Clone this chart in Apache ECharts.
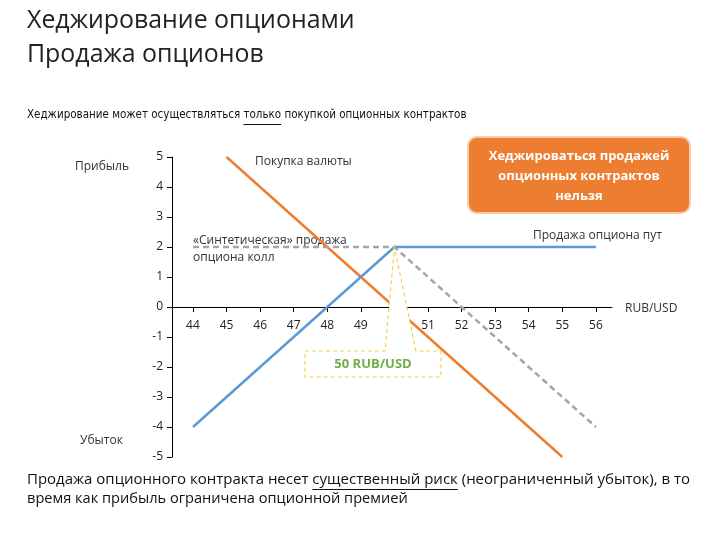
<!DOCTYPE html>
<html>
<head>
<meta charset="utf-8">
<script src="https://cdn.jsdelivr.net/npm/echarts@6/dist/echarts.min.js"></script>
<style>
html, body { margin: 0; padding: 0; background: #fff; }
#chart { width: 720px; height: 540px; }
</style>
</head>
<body>
<div id="chart"></div>
<script>
// курс RUB/USD и прибыль/убыток
var prices = [44, 45, 46, 47, 48, 49, 50, 51, 52, 53, 54, 55, 56];
var buyCurrency = [null, 5, 4, 3, 2, 1, 0, -1, -2, -3, -4, -5, null];
var putSale = [-4, -3, -2, -1, 0, 1, 2, 2, 2, 2, 2, 2, 2];
var syntheticCall = [2, 2, 2, 2, 2, 2, 2, 1, 0, -1, -2, -3, -4];
var strikePoint = [50, 2];

var FONT = '"Open Sans", "Noto Sans", sans-serif';
var NARROW = '"Liberation Sans Narrow", "DejaVu Sans Condensed", "Open Sans", sans-serif';

function pairs(ys) {
    return prices.map(function (x, i) { return [x, ys[i]]; });
}

var ctx = document.createElement('canvas').getContext('2d');
function textWidth(str, size, family) {
    ctx.font = size + 'px ' + (family || FONT);
    return ctx.measureText(str).width;
}
// подобрать кегль под ширину строки
function fitSize(str, width, family) {
    return Math.round(20 * width / textWidth(str, 20, family) * 10) / 10;
}

var chart = echarts.init(document.getElementById('chart'));

var option = {
    backgroundColor: '#fff',
    animation: false,
    grid: { left: 172, right: 108, top: 157, bottom: 83 },
    xAxis: {
        type: 'value',
        min: 43.375,
        max: 56.48,
        splitLine: { show: false },
        axisLine: { onZero: true, lineStyle: { color: '#000', width: 1 } },
        axisTick: { show: true, length: 5, inside: false, customValues: prices, lineStyle: { color: '#000' } },
        // подпись в первой строке высокого блока - встает у нулевой линии
        axisLabel: {
            customValues: prices,
            margin: 11,
            verticalAlign: 'bottom',
            lineHeight: 15,
            color: '#222',
            fontSize: 12,
            fontFamily: FONT,
            formatter: function (v) { return v + '\n\n\n\n\n\n\n\n\n'; }
        }
    },
    yAxis: {
        type: 'value',
        min: -5,
        max: 5,
        interval: 1,
        splitLine: { show: false },
        axisLine: { show: true, lineStyle: { color: '#000', width: 1 } },
        axisTick: { show: true, length: 5, lineStyle: { color: '#000' } },
        axisLabel: { margin: 9, color: '#222', fontSize: 12, fontFamily: FONT }
    },
    series: [
        {
            name: 'Покупка валюты',
            type: 'line',
            data: pairs(buyCurrency),
            showSymbol: false,
            lineStyle: { color: '#ED7D31', width: 2.5 },
            z: 2
        },
        {
            name: 'Синтетическая продажа опциона колл',
            type: 'line',
            data: pairs(syntheticCall),
            showSymbol: false,
            lineStyle: { color: '#A5A5A5', width: 2.5, type: [6, 4] },
            z: 3
        },
        {
            name: 'Продажа опциона пут',
            type: 'line',
            data: pairs(putSale),
            showSymbol: false,
            lineStyle: { color: '#5B9BD5', width: 2.5 },
            z: 4
        }
    ]
};
chart.setOption(option);

// выноска к страйку
var apex = chart.convertToPixel({ gridIndex: 0 }, strikePoint);
var boxL = 305, boxR = 441, boxT = 351, boxB = 377;

var title1 = 'Хеджирование опционами';
var subText = 'Хеджирование может осуществляться только покупкой опционных контрактов';
var subPre = 'Хеджирование может осуществляться ';
var subWord = 'только';
var botLine1 = 'Продажа опционного контракта несет существенный риск (неограниченный убыток), в то';
var botLine2 = 'время как прибыль ограничена опционной премией';
var botPre = 'Продажа опционного контракта несет ';
var botWord = 'существенный риск';

var TITLE = fitSize(title1, 328);
var SUB = fitSize(subText, 438, NARROW);
var BOT = fitSize(botLine2, 381);
var BOT1 = Math.min(fitSize(botLine1, 662), BOT * 1.03);

var u1x = 27 + textWidth(subPre, SUB, NARROW);
var u1w = textWidth(subWord, SUB, NARROW);
var u2x = 27 + textWidth(botPre, BOT1);
var u2w = textWidth(botWord, BOT1);

var lbl = { fontSize: 12, fontFamily: FONT, fill: '#333' };

chart.setOption({
    graphic: [
        { type: 'text', x: 27, y: 21, style: { text: title1, fontSize: TITLE, fontFamily: FONT, fill: '#222', verticalAlign: 'middle' } },
        { type: 'text', x: 27, y: 55, style: { text: 'Продажа опционов', fontSize: TITLE, fontFamily: FONT, fill: '#222', verticalAlign: 'middle' } },
        { type: 'text', x: 27, y: 115, style: { text: subText, fontSize: SUB, fontFamily: NARROW, fill: '#111', verticalAlign: 'middle' } },
        { type: 'line', shape: { x1: u1x, y1: 124.5, x2: u1x + u1w, y2: 124.5 }, style: { stroke: '#111', lineWidth: 1 } },
        { type: 'text', x: 27, y: 480, style: { text: botLine1, fontSize: BOT1, fontFamily: FONT, fill: '#111', verticalAlign: 'middle' } },
        { type: 'text', x: 27, y: 499, style: { text: botLine2, fontSize: BOT, fontFamily: FONT, fill: '#111', verticalAlign: 'middle' } },
        { type: 'line', shape: { x1: u2x, y1: 489.5, x2: u2x + u2w, y2: 489.5 }, style: { stroke: '#111', lineWidth: 1 } },

        { type: 'text', x: 75, y: 167, style: Object.assign({ text: 'Прибыль', verticalAlign: 'middle' }, lbl) },
        { type: 'text', x: 80, y: 441, style: Object.assign({ text: 'Убыток', verticalAlign: 'middle' }, lbl) },
        { type: 'text', x: 255, y: 162, style: Object.assign({ text: 'Покупка валюты', verticalAlign: 'middle' }, lbl) },
        { type: 'text', x: 193, y: 249, style: Object.assign({ text: '«Синтетическая» продажа\nопциона колл', lineHeight: 17, verticalAlign: 'middle' }, lbl) },
        { type: 'text', x: 533, y: 236, style: Object.assign({ text: 'Продажа опциона пут', verticalAlign: 'middle' }, lbl) },
        { type: 'text', x: 625, y: 309, style: Object.assign({ text: 'RUB/USD', verticalAlign: 'middle' }, lbl) },

        {
            type: 'polygon', z: 50,
            shape: { points: [[boxL, boxT], [385, boxT], [apex[0], apex[1]], [416, boxT], [boxR, boxT], [boxR, boxB], [boxL, boxB]] },
            style: { fill: '#fff', stroke: '#F2D34B', lineWidth: 1.2, lineDash: [4, 3] }
        },
        { type: 'text', z: 51, x: (boxL + boxR) / 2, y: (boxT + boxB) / 2, style: { text: '50 RUB/USD', fontSize: 13, fontWeight: 'bold', fontFamily: FONT, fill: '#70AD47', align: 'center', verticalAlign: 'middle' } },

        { type: 'rect', z: 50, shape: { x: 468, y: 137, width: 222, height: 76, r: 9 }, style: { fill: '#ED7D31', stroke: '#F8CBAD', lineWidth: 2 } },
        { type: 'text', z: 51, x: 579, y: 176, style: { text: 'Хеджироваться продажей\nопционных контрактов\nнельзя', lineHeight: 20, fontSize: 13, fontWeight: 'bold', fontFamily: FONT, fill: '#fff', align: 'center', verticalAlign: 'middle' } }
    ]
});
</script>
</body>
</html>
